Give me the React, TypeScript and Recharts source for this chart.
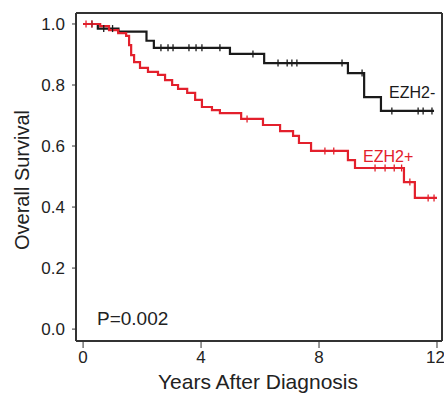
import React from "react";
import { ComposedChart, Line, Scatter, XAxis, YAxis, ReferenceLine } from "recharts";

const negTimes = [0, 0.5, 1.2, 2.15, 2.4, 4.98, 6.14, 8.98, 9.53, 10.1, 11.9];
const negSurv = [1.0, 0.985, 0.975, 0.945, 0.922, 0.902, 0.872, 0.839, 0.76, 0.715, 0.715];
const negCensored = [0.3, 0.7, 1.0, 2.64, 2.88, 3.05, 3.59, 3.83, 4.03, 4.64, 5.76, 6.61, 6.92, 7.08, 7.25, 8.78, 9.46, 10.47, 11.36, 11.53, 11.83];

const posTimes = [0, 0.58, 0.88, 1.19, 1.46, 1.56, 1.63, 1.73, 1.93, 2.2, 2.54, 2.78, 3.02, 3.22, 3.53, 3.8, 4.03, 4.37, 4.64, 5.36, 6.1, 6.68, 7.12, 7.32, 7.73, 8.98, 9.22, 10.88, 11.25, 12.0];
const posSurv = [1.0, 0.993, 0.98, 0.97, 0.961, 0.931, 0.898, 0.875, 0.856, 0.843, 0.833, 0.816, 0.8, 0.787, 0.774, 0.751, 0.728, 0.718, 0.708, 0.689, 0.669, 0.649, 0.633, 0.61, 0.584, 0.554, 0.528, 0.482, 0.43, 0.43];
const posCensored = [0.1, 0.3, 5.56, 8.2, 8.5, 9.9, 10.24, 10.55, 10.8, 11.08, 11.7, 11.9];

const xTicks = [0, 4, 8, 12];
const yTicks = [0, 0.2, 0.4, 0.6, 0.8, 1.0];

const X_MIN = -0.24;
const X_MAX = 12.17;
const Y_MIN = -0.039;
const Y_MAX = 1.036;

const BLACK = "#1a1a1a";
const RED = "#e3202c";
const FONT = "'Liberation Sans', Arial, sans-serif";

const toRows = (ts: number[], ss: number[]) => ts.map((t, i) => ({ t, s: ss[i] }));
const survAt = (ts: number[], ss: number[], t: number) => {
  let v = ss[0];
  for (let i = 0; i < ts.length; i++) if (ts[i] <= t) v = ss[i];
  return v;
};
const censorRows = (cs: number[], ts: number[], ss: number[]) =>
  cs.map((t) => ({ t, s: survAt(ts, ss, t) }));

const negData = toRows(negTimes, negSurv);
const posData = toRows(posTimes, posSurv);
const negMarks = censorRows(negCensored, negTimes, negSurv);
const posMarks = censorRows(posCensored, posTimes, posSurv);

const tickShape = (color: string) => (props: any) => {
  const { cx, cy } = props;
  return <line x1={cx} x2={cx} y1={cy - 3.5} y2={cy + 3.5} stroke={color} strokeWidth={1.3} />;
};

export default function App() {
  return (
    <div style={{ position: "fixed", left: 0, top: 0, width: 444, height: 394, background: "#fff" }}>
      <ComposedChart width={444} height={394} margin={{ top: 13, right: 2, left: 0, bottom: 0 }}>
        <XAxis
          type="number"
          dataKey="t"
          domain={[X_MIN, X_MAX]}
          ticks={xTicks}
          allowDataOverflow
          height={53}
          tickSize={7}
          tickMargin={3}
          stroke="#333"
          axisLine={{ stroke: "#333", strokeWidth: 2 }}
          tick={{ fill: "#222", fontSize: 17, fontFamily: FONT }}
        />
        <YAxis
          type="number"
          dataKey="s"
          domain={[Y_MIN, Y_MAX]}
          ticks={yTicks}
          allowDataOverflow
          width={76}
          tickSize={4}
          tickMargin={7}
          stroke="#333"
          axisLine={{ stroke: "#333", strokeWidth: 2 }}
          tickFormatter={(v: number) => v.toFixed(1)}
          tick={{ fill: "#222", fontSize: 17, fontFamily: FONT }}
        />
        <ReferenceLine y={Y_MAX} stroke="#333" strokeWidth={2} ifOverflow="visible" />
        <ReferenceLine x={X_MAX} stroke="#333" strokeWidth={2} ifOverflow="visible" />
        <Line data={negData} dataKey="s" type="stepAfter" stroke={BLACK} strokeWidth={2.2} dot={false} isAnimationActive={false} />
        <Line data={posData} dataKey="s" type="stepAfter" stroke={RED} strokeWidth={2.2} dot={false} isAnimationActive={false} />
        <Scatter data={negMarks} dataKey="s" shape={tickShape(BLACK)} isAnimationActive={false} />
        <Scatter data={posMarks} dataKey="s" shape={tickShape(RED)} isAnimationActive={false} />
      </ComposedChart>
      <svg width={444} height={394} style={{ position: "absolute", left: 0, top: 0, pointerEvents: "none" }}>
        <text x={389} y={98} fontSize={16} fontFamily={FONT} fill={BLACK}>EZH2-</text>
        <text x={363} y={162} fontSize={16} fontFamily={FONT} fill={RED}>EZH2+</text>
        <text x={97} y={325} fontSize={19} fontFamily={FONT} fill="#222">P=0.002</text>
        <text x={258} y={389} fontSize={21} fontFamily={FONT} fill="#222" textAnchor="middle">Years After Diagnosis</text>
        <text transform="translate(29,180) rotate(-90)" fontSize={20} fontFamily={FONT} fill="#222" textAnchor="middle">Overall Survival</text>
      </svg>
    </div>
  );
}
